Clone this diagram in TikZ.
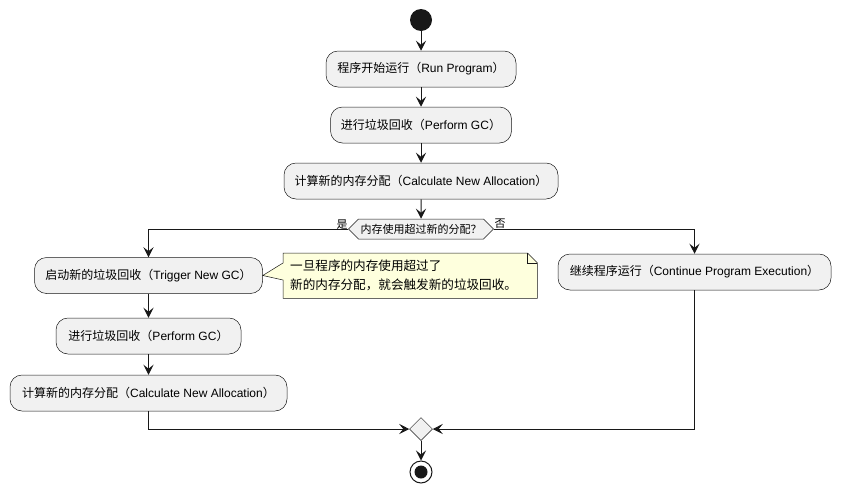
\documentclass[tikz,border=0pt]{standalone}
\usepackage{fontspec}
\setmainfont{Liberation Sans}
\newfontfamily\cjk{Noto Sans CJK SC}
\usetikzlibrary{arrows.meta,shapes.symbols,shapes.geometric}
\newcommand\zh[1]{{\cjk #1}}
\definecolor{boxfill}{HTML}{F1F1F1}
\definecolor{linecol}{HTML}{181818}
\definecolor{notefill}{HTML}{FEFFDD}
\begin{document}
\begin{tikzpicture}[x=1pt,y=-1pt,
  font=\fontsize{12}{14}\selectfont,
  action/.style={draw=linecol, line width=0.5pt, fill=boxfill, rounded corners=12pt,
    minimum height=36pt, inner sep=0pt, align=center},
  decision/.style={signal, signal to=west and east, draw=linecol, line width=0.5pt,
    fill=boxfill, minimum height=20pt, minimum width=142pt, inner xsep=2pt, inner ysep=0pt,
    font=\fontsize{11}{13}\selectfont},
  merge/.style={diamond, draw=linecol, line width=0.5pt, fill=boxfill,
    minimum size=23pt, inner sep=0pt},
  startnode/.style={circle, fill=linecol, minimum size=22pt, inner sep=0pt},
  endnode/.style={circle, draw=linecol, line width=1pt, fill=white, minimum size=22pt, inner sep=0pt},
  flow/.style={draw=linecol, line width=1pt, -{Stealth[length=10pt,width=10pt,inset=4pt]}},
  notebox/.style={anchor=north west, minimum width=254pt, minimum height=45pt,
    text width=240pt, inner xsep=7pt, inner ysep=0pt, align=left,
    font=\fontsize{12.6}{19}\selectfont},
  branchlabel/.style={font=\fontsize{11}{13}\selectfont, inner sep=0pt}
]
\useasboundingbox (0,0) rectangle (841,493);

% main column
\node[startnode] (start) at (421,20) {};
\node[action, minimum width=190pt] (run) at (421,69) {\zh{程序开始运行（}Run Program\zh{）}};
\node[action, minimum width=181pt] (gc1) at (421,125) {\zh{进行垃圾回收（}Perform GC\zh{）}};
\node[action, minimum width=274pt] (calc1) at (421,181) {\zh{计算新的内存分配（}Calculate New Allocation\zh{）}};
\node[decision] (dec) at (421,229) {\zh{内存使用超过新的分配？}};
\node[branchlabel] (yes) at (342,225) {\zh{是}};
\node[branchlabel] (no) at (500,224) {\zh{否}};

% yes branch
\node[action, minimum width=228pt] (trig) at (148.5,275.5) {\zh{启动新的垃圾回收（}Trigger New GC\zh{）}};
\node[action, minimum width=185pt] (gc2) at (148.5,336) {\zh{进行垃圾回收（}Perform GC\zh{）}};
\node[action, minimum width=277pt] (calc2) at (148.5,393) {\zh{计算新的内存分配（}Calculate New Allocation\zh{）}};

% no branch
\node[action, minimum width=273pt] (cont) at (694.5,272) {\zh{继续程序运行（}Continue Program Execution\zh{）}};

% merge and end
\node[merge] (mrg) at (421,429) {};
\node[endnode] (stop) at (421,472) {};
\fill[linecol] (stop.center) circle (6.5pt);

% note with folded corner and pointer
\node[notebox] (note) at (283,253) {\zh{一旦程序的内存使用超过了}\\\zh{新的内存分配，就会触发新的垃圾回收。}};
\draw[draw=linecol, line width=0.5pt, fill=notefill]
  (note.north west) -- ([xshift=-10pt]note.north east) -- ([yshift=-10pt]note.north east)
  -- (note.south east) -- (note.south west) -- ([yshift=-27pt]note.north west)
  -- (trig.east) -- ([yshift=-10pt]note.north west) -- cycle;
\draw[draw=linecol, line width=0.5pt]
  ([xshift=-10pt]note.north east) -- ++(0,10) -- ([yshift=-10pt]note.north east);
\node[notebox] at (283,253) {\zh{一旦程序的内存使用超过了}\\\zh{新的内存分配，就会触发新的垃圾回收。}};

% connectors
\draw[flow] (start) -- (run);
\draw[flow] (run) -- (gc1);
\draw[flow] (gc1) -- (calc1);
\draw[flow] (calc1) -- (dec);
\draw[flow] (dec.west) -| (trig.north);
\draw[flow] (dec.east) -| (cont.north);
\draw[flow] (trig) -- (gc2);
\draw[flow] (gc2) -- (calc2);
\draw[flow] (calc2.south) |- (mrg.west);
\draw[flow] (cont.south) |- (mrg.east);
\draw[flow] (mrg) -- (stop);
\end{tikzpicture}
\end{document}
